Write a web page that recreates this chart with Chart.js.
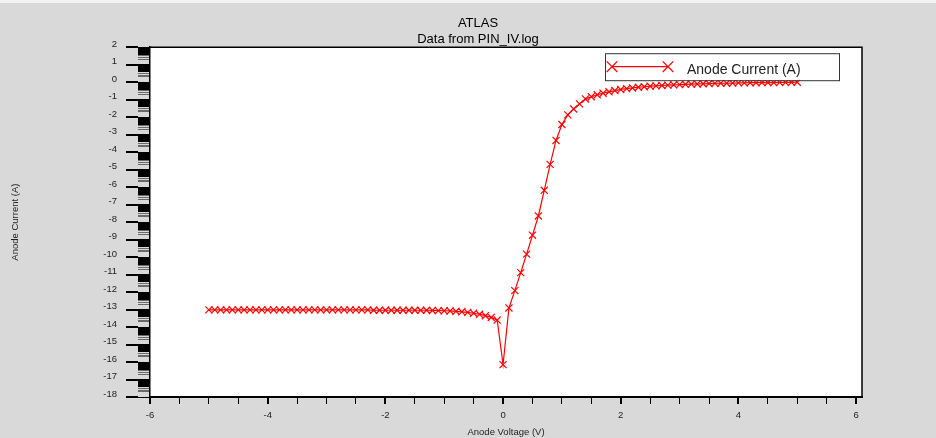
<!DOCTYPE html>
<html><head><meta charset="utf-8">
<style>
html,body{margin:0;padding:0;background:#d9d9d9;overflow:hidden}
#wrap{width:936px;height:438px;position:relative}
</style>
<script src="https://cdn.jsdelivr.net/npm/chart.js@4.4.1/dist/chart.umd.min.js"></script>
</head><body><div id="wrap"><canvas id="c"></canvas></div>
<script>
// ---- data ----
const voltage = [
 -5.0,-4.9,-4.8,-4.7,-4.6,-4.5,-4.4,-4.3,-4.2,-4.1,
 -4.0,-3.9,-3.8,-3.7,-3.6,-3.5,-3.4,-3.3,-3.2,-3.1,
 -3.0,-2.9,-2.8,-2.7,-2.6,-2.5,-2.4,-2.3,-2.2,-2.1,
 -2.0,-1.9,-1.8,-1.7,-1.6,-1.5,-1.4,-1.3,-1.2,-1.1,
 -1.0,-0.9,-0.8,-0.7,-0.6,-0.5,-0.4,-0.3,-0.2,-0.1,
 0.0,
 0.1,0.2,0.3,0.4,0.5,0.6,0.7,0.8,0.9,1.0,
 1.1,1.2,1.3,1.4,1.5,1.6,1.7,1.8,1.9,2.0,
 2.1,2.2,2.3,2.4,2.5,2.6,2.7,2.8,2.9,3.0,
 3.1,3.2,3.3,3.4,3.5,3.6,3.7,3.8,3.9,4.0,
 4.1,4.2,4.3,4.4,4.5,4.6,4.7,4.8,4.9,5.0
];
const anodeCurrent = [
 -13.02,-13.02,-13.02,-13.02,-13.02,-13.02,-13.02,-13.02,-13.02,-13.02,
 -13.02,-13.02,-13.02,-13.02,-13.02,-13.02,-13.02,-13.02,-13.02,-13.02,
 -13.02,-13.02,-13.02,-13.02,-13.02,-13.02,-13.02,-13.02,-13.04,-13.04,
 -13.04,-13.04,-13.04,-13.04,-13.04,-13.04,-13.04,-13.04,-13.05,-13.06,
 -13.07,-13.08,-13.10,-13.13,-13.16,-13.21,-13.27,-13.35,-13.45,-13.60,
 -16.15,
 -12.91,-11.92,-10.89,-9.83,-8.75,-7.65,-6.18,-4.70,-3.33,-2.42,
 -1.87,-1.53,-1.24,-0.96,-0.83,-0.72,-0.63,-0.55,-0.48,-0.42,
 -0.37,-0.33,-0.29,-0.26,-0.23,-0.21,-0.19,-0.17,-0.15,-0.14,
 -0.12,-0.11,-0.10,-0.09,-0.08,-0.07,-0.06,-0.06,-0.05,-0.04,
 -0.04,-0.03,-0.03,-0.02,-0.02,-0.02,-0.01,-0.01,-0.01,0.00
];
const seriesLabel = 'Anode Current (A)';
const xTickValues = [-6,-5.5,-5,-4.5,-4,-3.5,-3,-2.5,-2,-1.5,-1,-0.5,0,0.5,1,1.5,2,2.5,3,3.5,4,4.5,5,5.5,6];
const xLabelValues = [-6,-4,-2,0,2,4,6];
const yTickValues = [2,1,0,-1,-2,-3,-4,-5,-6,-7,-8,-9,-10,-11,-12,-13,-14,-15,-16,-17,-18];
const yMinorOffsets = [0,0.05,0.1,0.15,0.2,0.25,0.3,0.35,0.4,0.5,0.6,0.7];
const titleText = 'ATLAS';
const subtitleText = 'Data from PIN_IV.log';
const xTitle = 'Anode Voltage (V)';
const yTitle = 'Anode Current (A)';

// ---- styling ----
const FONT = "'Liberation Sans', Arial, sans-serif";
const RED = '#ff0000';
Chart.defaults.font.family = FONT;

const points = voltage.map((v, i) => ({x: v, y: anodeCurrent[i]}));

const bgPlugin = {
  id: 'bgPlugin',
  beforeDraw(chart) {
    const {ctx, width, height, chartArea: a} = chart;
    ctx.save();
    ctx.fillStyle = '#d9d9d9';
    ctx.fillRect(0, 0, width, height);
    ctx.fillStyle = '#f3f3f3';
    ctx.fillRect(0, 0, width, 3);
    ctx.fillStyle = '#ffffff';
    ctx.fillRect(a.left, a.top, a.right - a.left, a.bottom - a.top);
    ctx.restore();
  },
  afterDraw(chart) {
    const {ctx, chartArea: a} = chart;
    ctx.save();
    ctx.strokeStyle = '#000';
    ctx.lineWidth = 1.5;
    ctx.beginPath();
    ctx.moveTo(a.left, a.top);
    ctx.lineTo(a.right, a.top);
    ctx.lineTo(a.right, a.bottom);
    ctx.stroke();
    ctx.restore();
  }
};

function drawCross(ctx, x, y, r) {
  const d = r * Math.SQRT1_2;
  ctx.beginPath();
  ctx.moveTo(x - d, y - d); ctx.lineTo(x + d, y + d);
  ctx.moveTo(x - d, y + d); ctx.lineTo(x + d, y - d);
  ctx.stroke();
}

const legendPlugin = {
  id: 'boxLegend',
  afterDraw(chart) {
    const {ctx, chartArea: a} = chart;
    const ds = chart.data.datasets[0];
    const w = 234, h = 27;
    const bx = a.right - 257, by = a.top + 6;
    ctx.save();
    ctx.fillStyle = '#fff';
    ctx.fillRect(bx, by, w, h);
    ctx.strokeStyle = '#333';
    ctx.lineWidth = 1;
    ctx.strokeRect(bx + 0.5, by + 0.5, w, h);
    const ly = by + 13.5;
    ctx.strokeStyle = ds.borderColor;
    ctx.lineWidth = 1.2;
    ctx.beginPath();
    ctx.moveTo(bx + 7, ly); ctx.lineTo(bx + 63, ly);
    ctx.stroke();
    drawCross(ctx, bx + 7, ly, 7.5);
    drawCross(ctx, bx + 63, ly, 7.5);
    ctx.fillStyle = '#222';
    ctx.font = '14px ' + FONT;
    ctx.textBaseline = 'middle';
    ctx.textAlign = 'left';
    ctx.fillText(ds.label, bx + 82, by + 17);
    ctx.restore();
  }
};

new Chart(document.getElementById('c'), {
  type: 'line',
  data: {
    datasets: [{
      label: seriesLabel,
      data: points,
      borderColor: RED,
      backgroundColor: RED,
      borderWidth: 1.2,
      pointStyle: 'crossRot',
      pointRadius: 5,
      pointBorderWidth: 1.2,
      pointBorderColor: RED,
      tension: 0,
      fill: false,
      xAxisID: 'x',
      yAxisID: 'y'
    }]
  },
  options: {
    responsive: true,
    maintainAspectRatio: false,
    animation: false,
    layout: {padding: {left: 0, right: -20, top: 0, bottom: 0}},
    plugins: {
      legend: {display: false},
      tooltip: {enabled: false},
      title: {display: true, text: titleText, color: '#000',
        font: {size: 13, weight: 'normal'}, padding: {top: 16, bottom: 0}},
      subtitle: {display: true, text: subtitleText, color: '#000',
        font: {size: 13, weight: 'normal'}, padding: {top: 0, bottom: 0}}
    },
    scales: {
      x: {
        type: 'linear', position: 'bottom', min: -6, max: 6.1,
        afterBuildTicks: s => { s.ticks = xTickValues.map(v => ({value: v})); },
        afterFit: s => { s.height = 41; },
        ticks: {
          autoSkip: false, maxRotation: 0, color: '#222', padding: 6,
          font: {size: 9.5},
          callback: v => xLabelValues.includes(v) ? String(v) : ''
        },
        grid: {
          drawOnChartArea: false, drawTicks: true, tickLength: 7, color: '#000',
          lineWidth: c => (c.tick && xLabelValues.includes(c.tick.value)) ? 2 : 1
        },
        border: {display: true, color: '#000', width: 2},
        title: {display: true, text: xTitle, color: '#222', font: {size: 9.5},
          padding: {top: 2, bottom: 0}}
      },
      y: {
        type: 'linear', position: 'left', min: -18, max: 2, weight: 1,
        afterBuildTicks: s => { s.ticks = yTickValues.map(v => ({value: v})); },
        afterFit: s => { s.width = 138; },
        ticks: {autoSkip: false, color: '#222', padding: 9, labelOffset: -3,
          font: {size: 9.5}, callback: v => String(v)},
        grid: {drawOnChartArea: false, drawTicks: true, tickLength: 12,
          color: '#000', lineWidth: 2},
        border: {display: false},
        title: {display: true, text: yTitle, color: '#222', font: {size: 9.5},
          padding: {top: 10, bottom: 0}}
      },
      yMinor: {
        type: 'linear', position: 'left', min: -18, max: 2, weight: 0,
        afterBuildTicks: s => {
          const arr = [];
          yTickValues.forEach(n => {
            yMinorOffsets.forEach(f => {
              const v = n - f;
              if (v >= -18 - 1e-9) arr.push({value: v});
            });
          });
          s.ticks = arr;
        },
        afterFit: s => { s.width = 12; },
        ticks: {display: false},
        grid: {drawOnChartArea: false, drawTicks: true, tickLength: 12,
          color: c => {
            if (!c.tick) return '#000';
            const v = c.tick.value;
            const f = Math.ceil(v - 1e-6) - v;
            return f > 0.45 ? '#6a6a6a' : '#000';
          },
          lineWidth: 1},
        border: {display: true, color: '#000', width: 1.5}
      },
      yRight: {
        type: 'linear', position: 'right', min: -18, max: 2, display: true,
        afterFit: s => { s.width = 94; },
        ticks: {display: false},
        grid: {display: false, drawOnChartArea: false, drawTicks: false},
        border: {display: false}
      }
    }
  },
  plugins: [bgPlugin, legendPlugin]
});
</script>
</body></html>
